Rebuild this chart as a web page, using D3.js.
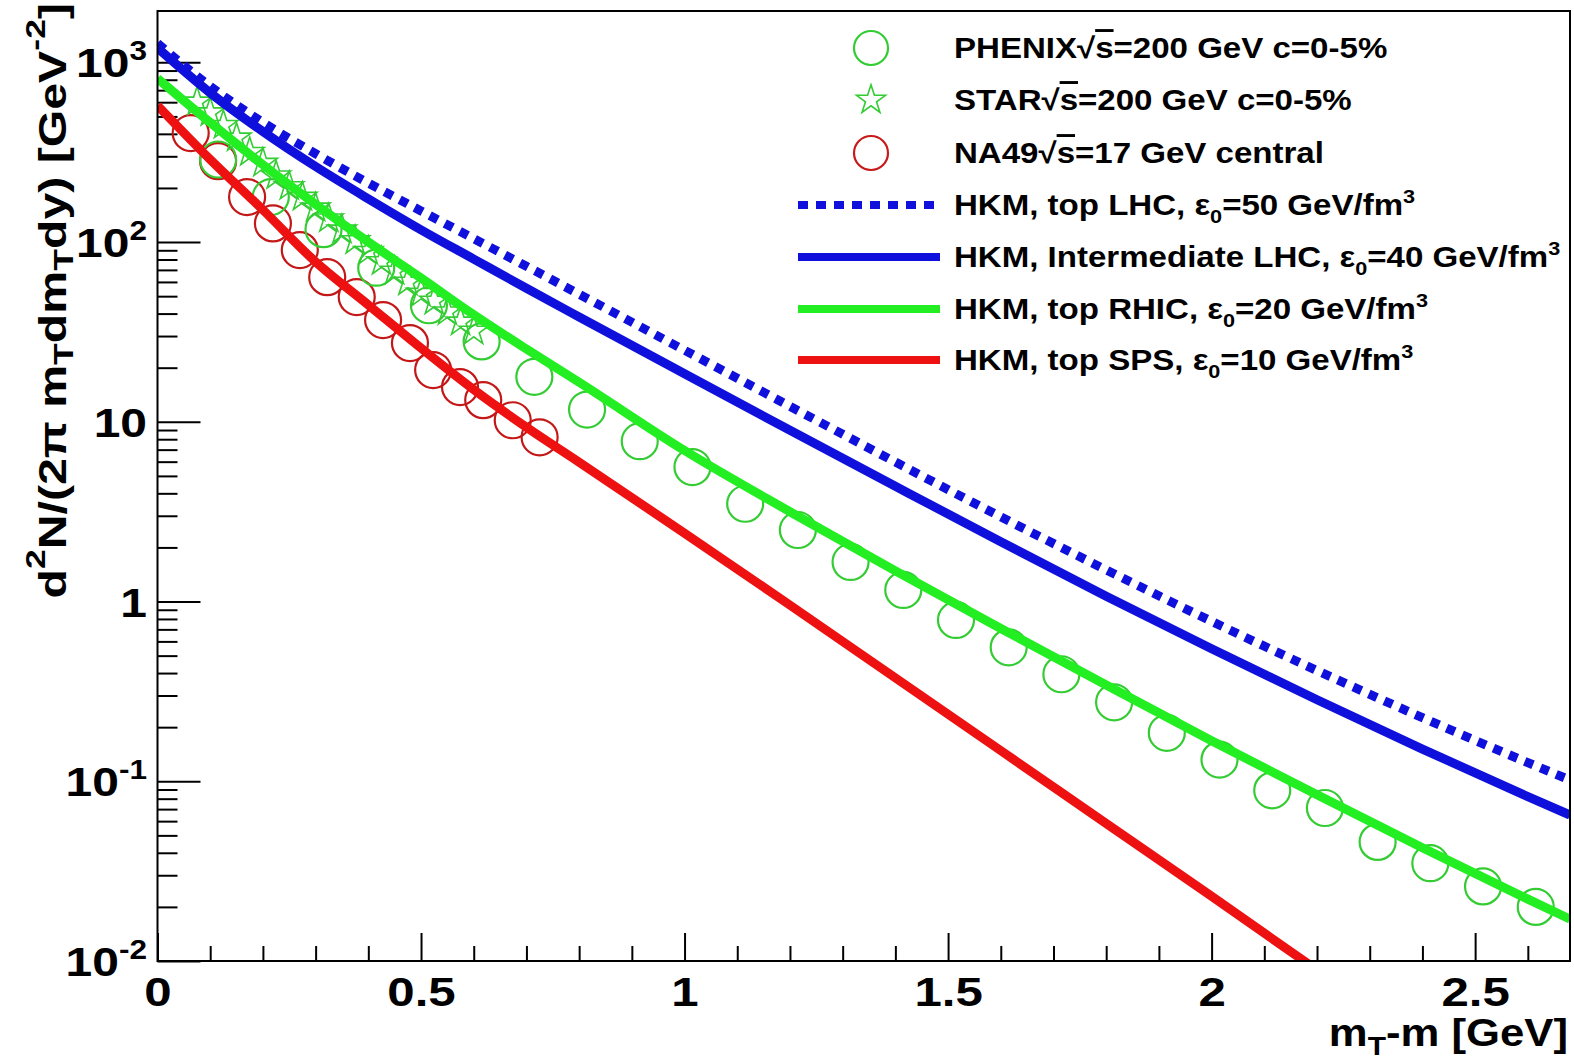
<!DOCTYPE html>
<html>
<head>
<meta charset="utf-8">
<script src="https://cdn.jsdelivr.net/npm/d3@7"></script>
<style>
  html, body { margin: 0; padding: 0; background: #fff; }
  svg { display: block; }
  text { font-family: "Liberation Sans", Arial, Helvetica, sans-serif; font-weight: bold; fill: #000; }
</style>
</head>
<body>
<svg id="chart" width="1574" height="1062"></svg>
<script>
// ---- pion m_T spectra: HKM calculations vs. RHIC / SPS data ----

// HKM model curves, sampled in m_T - m [GeV]
const curveX = [0, 0.1, 0.2, 0.3, 0.4, 0.5, 0.6, 0.7, 0.8, 1.0, 1.2, 1.4, 1.6, 1.8, 2.0, 2.2, 2.4, 2.6, 2.68];
const hkmTopLHC = [1276, 735, 463, 310, 213, 149, 104.5, 73.3, 51.3, 25.0, 12.2, 5.97, 2.96, 1.50, 0.776, 0.413, 0.226, 0.127, 0.1016];
const hkmInterLHC = [1202, 676, 412, 263, 174, 117, 80.4, 55.3, 38.3, 18.5, 8.97, 4.38, 2.15, 1.07, 0.546, 0.284, 0.151, 0.0822, 0.0649];
const hkmTopRHIC = [813, 462, 269, 162, 100, 63.1, 39.4, 25.4, 16.6, 6.92, 3.16, 1.48, 0.708, 0.343, 0.168, 0.0841, 0.0427, 0.0221, 0.0171];

const spsX = [0, 0.1, 0.2, 0.3, 0.4, 0.5, 0.6, 0.7, 0.8, 1.0, 1.2, 1.4, 1.6, 1.8, 2.0, 2.2];
const hkmTopSPS = [575, 288, 151, 77.6, 44.7, 25.7, 15.1, 9.33, 5.96, 2.40, 0.955, 0.376, 0.148, 0.0582, 0.0229, 0.00891];

// PHENIX sqrt(s)=200 GeV, 0-5%
const phenixX = [0.115, 0.215, 0.315, 0.415, 0.515, 0.615, 0.715, 0.815, 0.915, 1.015, 1.115, 1.215, 1.315,
                 1.415, 1.515, 1.615, 1.715, 1.815, 1.915, 2.015, 2.115, 2.215, 2.315, 2.415, 2.515, 2.615];
const phenixY = [288, 178, 118, 72, 44.5, 28.0, 17.8, 11.7, 7.8, 5.6, 3.5, 2.5, 1.66, 1.16, 0.79, 0.556,
                 0.394, 0.275, 0.186, 0.132, 0.089, 0.071, 0.046, 0.035, 0.026, 0.020];

// STAR sqrt(s)=200 GeV, 0-5%
const starX = [0.075, 0.1, 0.125, 0.15, 0.175, 0.2, 0.225, 0.25, 0.275, 0.3, 0.325, 0.35, 0.375, 0.4,
               0.425, 0.45, 0.475, 0.5, 0.525, 0.55, 0.575, 0.6];
const starY = [603, 525, 447, 380, 316, 275, 234, 204, 178, 155, 135, 117, 102, 89, 78, 69, 60, 52, 47, 41, 36, 32];

// NA49 sqrt(s)=17 GeV, central
const na49X = [0.063, 0.115, 0.17, 0.219, 0.27, 0.322, 0.378, 0.428, 0.479, 0.523, 0.574, 0.618, 0.674, 0.725];
const na49Y = [404, 282, 178, 127, 90.2, 63.8, 49.4, 36.8, 27.4, 19.4, 15.6, 13.2, 10.2, 8.2];

// axis ticks
const xTickValues = [0, 0.5, 1, 1.5, 2, 2.5];
const xTickLabels = ["0", "0.5", "1", "1.5", "2", "2.5"];
const yTickValues = [0.01, 0.1, 1, 10, 100, 1000];
const yTickBase = ["10", "10", "1", "10", "10", "10"];
const yTickExp = ["-2", "-1", "", "", "2", "3"];

// legend entries
const legendRows = [
  { kind: "circle", color: "#33cc33", parts: [["PHENIX", ""], ["√", ""], ["s", "over"], ["=200 GeV c=0-5%", ""]] },
  { kind: "star", color: "#33cc33", parts: [["STAR", ""], ["√", ""], ["s", "over"], ["=200 GeV c=0-5%", ""]] },
  { kind: "circle", color: "#c81a1a", parts: [["NA49", ""], ["√", ""], ["s", "over"], ["=17 GeV central", ""]] },
  { kind: "dash", color: "#1010dc", parts: [["HKM, top LHC, ", ""], ["ε", ""], ["0", "sub"], ["=50 GeV/fm", ""], ["3", "sup"]] },
  { kind: "line", color: "#1010dc", parts: [["HKM, Intermediate LHC, ", ""], ["ε", ""], ["0", "sub"], ["=40 GeV/fm", ""], ["3", "sup"]] },
  { kind: "line", color: "#22ee22", parts: [["HKM, top RHIC, ", ""], ["ε", ""], ["0", "sub"], ["=20 GeV/fm", ""], ["3", "sup"]] },
  { kind: "line", color: "#ee1111", parts: [["HKM, top SPS, ", ""], ["ε", ""], ["0", "sub"], ["=10 GeV/fm", ""], ["3", "sup"]] }
];

// ---- layout ----
const plot = { left: 157.5, right: 1570, top: 11, bottom: 961 };
const wide = 1.17; // horizontal stretch of the bold label face

const svg = d3.select("#chart");

const x = d3.scaleLinear().domain([0, 2.68]).range([plot.left, plot.right]);
const y = d3.scaleLog().domain([0.01, 1930]).range([plot.bottom, plot.top]);

svg.append("defs").append("clipPath").attr("id", "plotClip")
  .append("rect")
  .attr("x", plot.left).attr("y", plot.top)
  .attr("width", plot.right - plot.left).attr("height", plot.bottom - plot.top);

// ---- axes ----
const xMinor = d3.range(0, 2.68, 0.1).filter(v => Math.abs(v * 2 - Math.round(v * 2)) > 1e-6);
svg.append("g")
  .attr("transform", `translate(0,${plot.bottom})`)
  .call(d3.axisBottom(x).tickValues(xMinor).tickSize(-15).tickFormat(""))
  .call(g => g.select(".domain").remove());
const xAxis = svg.append("g")
  .attr("transform", `translate(0,${plot.bottom})`)
  .call(d3.axisBottom(x).tickValues(xTickValues).tickSize(-28).tickPadding(16)
    .tickFormat((d, i) => xTickLabels[i]));
xAxis.select(".domain").remove();
xAxis.selectAll("text")
  .attr("font-size", 41)
  .attr("transform", "scale(1.2,1)")
  .style("font-family", "Liberation Sans, Arial, sans-serif").style("font-weight", "bold");

const yMinor = [];
for (let e = -2; e < 4; e++) for (let m = 2; m <= 9; m++) {
  const v = m * Math.pow(10, e);
  if (v < 1930) yMinor.push(v);
}
svg.append("g")
  .attr("transform", `translate(${plot.left},0)`)
  .call(d3.axisLeft(y).tickValues(yMinor).tickSize(-20).tickFormat(""))
  .call(g => g.select(".domain").remove());
svg.append("g")
  .attr("transform", `translate(${plot.left},0)`)
  .call(d3.axisLeft(y).tickValues(yTickValues).tickSize(-43).tickFormat(""))
  .call(g => g.select(".domain").remove());
svg.selectAll(".tick line").attr("stroke", "#000").attr("stroke-width", 2);

// y tick labels, base with superscript exponent
const yLab = svg.append("g").selectAll("text")
  .data(yTickValues)
  .join("text")
  .attr("transform", d => `translate(147,${y(d) + 15}) scale(${wide},1)`)
  .attr("text-anchor", "end")
  .attr("font-size", 41);
yLab.append("tspan").text((d, i) => yTickBase[i]);
yLab.append("tspan")
  .attr("font-size", 27)
  .attr("dy", -17)
  .text((d, i) => yTickExp[i]);

// ---- data markers ----
const dataG = svg.append("g").attr("clip-path", "url(#plotClip)");

dataG.selectAll("circle.na49")
  .data(na49X.map((v, i) => [v, na49Y[i]]))
  .join("circle").attr("class", "na49")
  .attr("cx", d => x(d[0])).attr("cy", d => y(d[1])).attr("r", 18)
  .attr("fill", "none").attr("stroke", "#c41818").attr("stroke-width", 2.2);

dataG.selectAll("circle.phenix")
  .data(phenixX.map((v, i) => [v, phenixY[i]]))
  .join("circle").attr("class", "phenix")
  .attr("cx", d => x(d[0])).attr("cy", d => y(d[1])).attr("r", 18)
  .attr("fill", "none").attr("stroke", "#33cc33").attr("stroke-width", 2.2);

const star = d3.symbol().type(d3.symbolStar).size(260);
dataG.selectAll("path.star")
  .data(starX.map((v, i) => [v, starY[i]]))
  .join("path").attr("class", "star")
  .attr("d", star)
  .attr("transform", d => `translate(${x(d[0])},${y(d[1])})`)
  .attr("fill", "none").attr("stroke", "#33cc33").attr("stroke-width", 1.6);

// ---- HKM curves ----
const line = d3.line().x(d => x(d[0])).y(d => y(d[1])).curve(d3.curveMonotoneX);
const curves = [
  { xs: spsX, ys: hkmTopSPS, color: "#ee1111", dash: null },
  { xs: curveX, ys: hkmTopRHIC, color: "#22ee22", dash: null },
  { xs: curveX, ys: hkmInterLHC, color: "#1010dc", dash: null },
  { xs: curveX, ys: hkmTopLHC, color: "#1010dc", dash: "9 8" }
];
dataG.selectAll("path.curve")
  .data(curves)
  .join("path").attr("class", "curve")
  .attr("d", c => line(c.xs.map((v, i) => [v, c.ys[i]])))
  .attr("fill", "none")
  .attr("stroke", c => c.color)
  .attr("stroke-width", 9)
  .attr("stroke-dasharray", c => c.dash);

// ---- frame ----
svg.append("rect")
  .attr("x", plot.left).attr("y", plot.top)
  .attr("width", plot.right - plot.left).attr("height", plot.bottom - plot.top)
  .attr("fill", "none").attr("stroke", "#000").attr("stroke-width", 2);

// ---- axis titles ----
svg.append("text")
  .attr("transform", "translate(1568,1046) scale(1.15,1)")
  .attr("text-anchor", "end").attr("font-size", 38)
  .call(t => {
    t.append("tspan").text("m");
    t.append("tspan").attr("font-size", 26).attr("dy", 9).text("T");
    t.append("tspan").attr("dy", -9).text("-m [GeV]");
  });

svg.append("text")
  .attr("transform", "translate(66,3) rotate(-90) scale(1.27,1)")
  .attr("text-anchor", "end").attr("font-size", 38)
  .call(t => {
    t.append("tspan").text("d");
    t.append("tspan").attr("font-size", 28).attr("dy", -21).text("2");
    t.append("tspan").attr("dy", 21).text("N/(2π m");
    t.append("tspan").attr("font-size", 28).attr("dy", 7).text("T");
    t.append("tspan").attr("dy", -7).text("dm");
    t.append("tspan").attr("font-size", 28).attr("dy", 7).text("T");
    t.append("tspan").attr("dy", -7).text("dy) [GeV");
    t.append("tspan").attr("font-size", 28).attr("dy", -21).text("-2");
    t.append("tspan").attr("dy", 21).text("]");
  });

// ---- legend ----
const rowY = [48, 100, 153, 205, 257, 309, 360];
const legend = svg.append("g");
const legendText = svg.append("g").attr("transform", `translate(954,0) scale(1.14,1)`);
legendRows.forEach((r, i) => {
  const cy = rowY[i];
  if (r.kind === "circle") {
    legend.append("circle").attr("cx", 871).attr("cy", cy).attr("r", 17)
      .attr("fill", "none").attr("stroke", r.color).attr("stroke-width", 2.2);
  } else if (r.kind === "star") {
    legend.append("path").attr("d", star).attr("transform", `translate(871,${cy})`)
      .attr("fill", "none").attr("stroke", r.color).attr("stroke-width", 1.6);
  } else {
    legend.append("line").attr("x1", 798).attr("x2", 940).attr("y1", cy).attr("y2", cy)
      .attr("stroke", r.color).attr("stroke-width", 8)
      .attr("stroke-dasharray", r.kind === "dash" ? "10 8" : null);
  }
  const t = legendText.append("text").attr("x", 0).attr("y", cy + 10).attr("font-size", 29);
  let shift = 0;
  r.parts.forEach(([s, mode]) => {
    const sp = t.append("tspan").text(s);
    if (mode === "sub") { sp.attr("font-size", 19).attr("dy", 8 - shift); shift = 8; }
    else if (mode === "sup") { sp.attr("font-size", 19).attr("dy", -12 - shift); shift = -12; }
    else {
      if (shift !== 0) { sp.attr("dy", -shift); shift = 0; }
      if (mode === "over") sp.style("text-decoration", "overline");
    }
  });
});
</script>
</body>
</html>
